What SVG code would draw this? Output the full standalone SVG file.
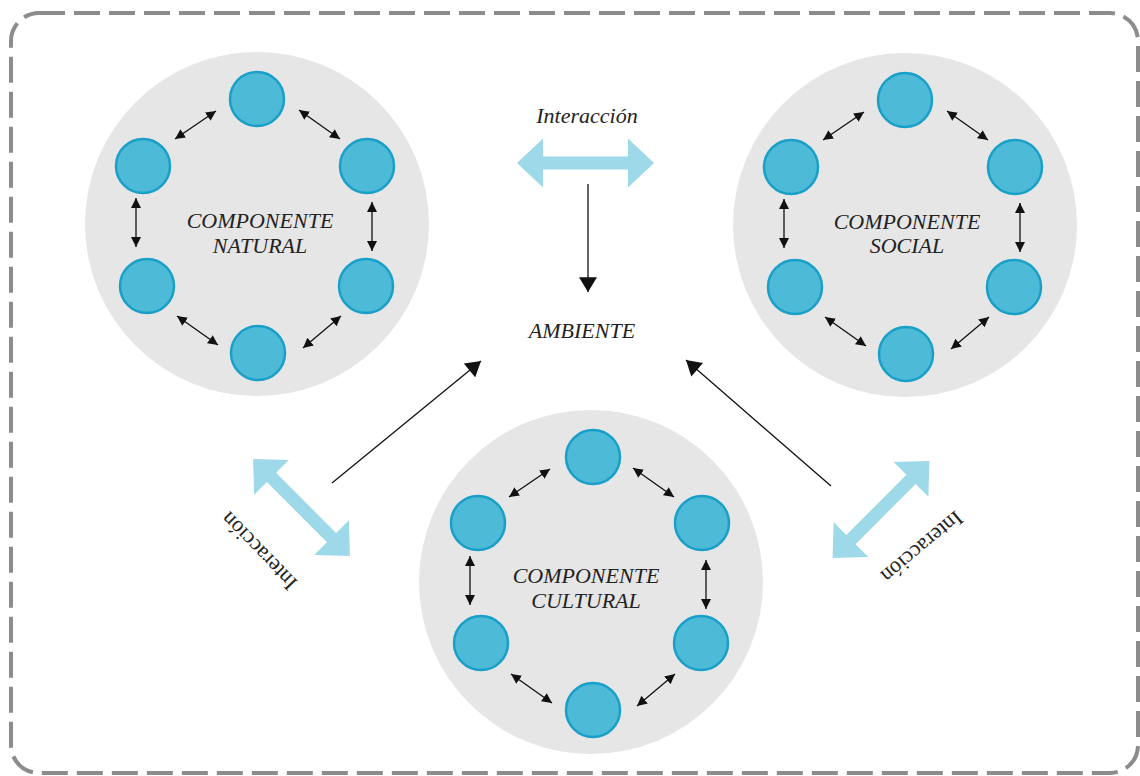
<svg xmlns="http://www.w3.org/2000/svg" width="1140" height="776" viewBox="0 0 1140 776">
<style>
.frame{fill:#fff;stroke:#8c8c8c;stroke-width:4;stroke-dasharray:26 9}
.big{fill:#e6e6e6}
.dot{fill:#4dbad7;stroke:#1aa0c8;stroke-width:2.5}
.lbl{font-family:"Liberation Serif",serif;font-style:italic;font-size:22px;fill:#222;text-anchor:middle}
.rlbl{font-family:"Liberation Serif",serif;font-size:22px;fill:#222;text-anchor:middle}
.sm{stroke:#111;stroke-width:1.3;fill:none;marker-start:url(#sh);marker-end:url(#sh)}
.lg{stroke:#111;stroke-width:1.3;fill:none;marker-end:url(#lh)}
.blue{fill:#9dd9e8}
</style>
<defs>
<marker id="sh" markerUnits="userSpaceOnUse" markerWidth="10" markerHeight="10" refX="8" refY="4" orient="auto-start-reverse" viewBox="0 0 8 8"><path d="M0,0 L8,4 L0,8 Z" fill="#111"/></marker>
<marker id="lh" markerUnits="userSpaceOnUse" markerWidth="16" markerHeight="18" refX="14" refY="8.5" orient="auto" viewBox="0 0 14 17"><path d="M0,0 L14,8.5 L0,17 Z" fill="#111"/></marker>
<path id="dbl" d="M-68.5,0 L-42.5,-24.5 L-42.5,-6.5 L42.5,-6.5 L42.5,-24.5 L68.5,0 L42.5,24.5 L42.5,6.5 L-42.5,6.5 L-42.5,24.5 Z"/>
</defs>
<rect class="frame" x="11" y="13" width="1127" height="760" rx="28"/>

<g id="natural">
<circle class="big" cx="257" cy="224" r="172"/>
<g transform="translate(257,224)">
<circle class="dot" cx="0" cy="-125" r="27"/>
<circle class="dot" cx="-114" cy="-58" r="27"/>
<circle class="dot" cx="110" cy="-58" r="27"/>
<circle class="dot" cx="-110" cy="62" r="27"/>
<circle class="dot" cx="109" cy="62" r="27"/>
<circle class="dot" cx="1" cy="129" r="27"/>
</g>
<text class="lbl" x="260" y="228">COMPONENTE</text>
<text class="lbl" x="260" y="253">NATURAL</text>
</g>

<g id="social">
<circle class="big" cx="905" cy="225" r="172"/>
<g transform="translate(905,225)">
<circle class="dot" cx="0" cy="-125" r="27"/>
<circle class="dot" cx="-114" cy="-58" r="27"/>
<circle class="dot" cx="110" cy="-58" r="27"/>
<circle class="dot" cx="-110" cy="62" r="27"/>
<circle class="dot" cx="109" cy="62" r="27"/>
<circle class="dot" cx="1" cy="129" r="27"/>
</g>
<text class="lbl" x="907" y="229">COMPONENTE</text>
<text class="lbl" x="907" y="253">SOCIAL</text>
</g>

<g id="cultural">
<circle class="big" cx="591" cy="582" r="172"/>
<g transform="translate(591,582)">
<circle class="dot" cx="2" cy="-125" r="27"/>
<circle class="dot" cx="-113" cy="-59" r="27"/>
<circle class="dot" cx="111" cy="-59" r="27"/>
<circle class="dot" cx="-110" cy="61" r="27"/>
<circle class="dot" cx="110" cy="61" r="27"/>
<circle class="dot" cx="2" cy="128" r="27"/>
</g>
<text class="lbl" x="586" y="583">COMPONENTE</text>
<text class="lbl" x="586" y="608">CULTURAL</text>
</g>

<g id="ambiente">
<text class="lbl" x="582" y="338">AMBIENTE</text>
</g>

<g id="interaccion-top">
<text class="lbl" x="587" y="123">Interacción</text>
<use href="#dbl" class="blue" transform="translate(585.5,163)"/>
</g>
<g id="interaccion-left">
<use href="#dbl" class="blue" transform="translate(301.5,507.5) rotate(45)"/>
<text class="rlbl" transform="translate(259,551) rotate(226)" x="0" y="7">Interacción</text>
</g>
<g id="interaccion-right">
<use href="#dbl" class="blue" transform="translate(881,509.5) rotate(-45)"/>
<text class="rlbl" transform="translate(922,547) rotate(140)" x="0" y="7">Interacción</text>
</g>

<g id="connectors">
<g transform="translate(257,224)">
<line class="sm" x1="-82" y1="-85" x2="-41" y2="-113"/>
<line class="sm" x1="42" y1="-114" x2="83" y2="-85"/>
<line class="sm" x1="-121" y1="-26" x2="-121" y2="23"/>
<line class="sm" x1="115" y1="-22" x2="115" y2="27"/>
<line class="sm" x1="-80" y1="92" x2="-39" y2="121"/>
<line class="sm" x1="46" y1="124" x2="84" y2="92"/>
</g>
<g transform="translate(905,225)">
<line class="sm" x1="-82" y1="-85" x2="-41" y2="-113"/>
<line class="sm" x1="42" y1="-114" x2="83" y2="-85"/>
<line class="sm" x1="-121" y1="-26" x2="-121" y2="23"/>
<line class="sm" x1="115" y1="-22" x2="115" y2="27"/>
<line class="sm" x1="-80" y1="92" x2="-39" y2="121"/>
<line class="sm" x1="46" y1="124" x2="84" y2="92"/>
</g>
<g transform="translate(591,582)">
<line class="sm" x1="-82" y1="-85" x2="-41" y2="-113"/>
<line class="sm" x1="42" y1="-114" x2="83" y2="-85"/>
<line class="sm" x1="-121" y1="-26" x2="-121" y2="23"/>
<line class="sm" x1="115" y1="-22" x2="115" y2="27"/>
<line class="sm" x1="-80" y1="92" x2="-39" y2="121"/>
<line class="sm" x1="46" y1="124" x2="84" y2="92"/>
</g>
<line class="lg" x1="588" y1="184" x2="588" y2="292"/>
<line class="lg" x1="332" y1="483" x2="481" y2="361"/>
<line class="lg" x1="831" y1="486" x2="686" y2="360"/>
</g>
</svg>
